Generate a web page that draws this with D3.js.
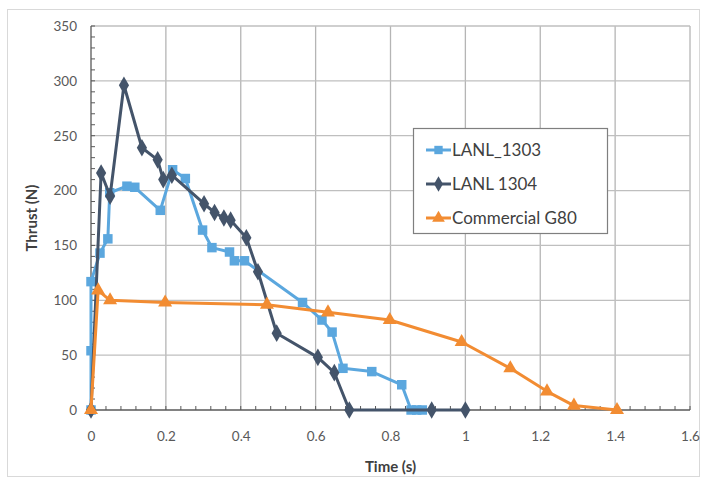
<!DOCTYPE html>
<html><head><meta charset="utf-8">
<script src="https://cdn.jsdelivr.net/npm/d3@7"></script>
<style>
body{margin:0;background:#fff;}
text{font-family:Lato,"Open Sans",sans-serif;}
</style></head>
<body><svg id="c" width="707" height="485"></svg>
<script>
// ---- data ----
const xTicks = [0,0.2,0.4,0.6,0.8,1,1.2,1.4,1.6];
const yTicks = [0,50,100,150,200,250,300,350];
const seriesNames = ["LANL_1303","LANL 1304","Commercial G80"];
const lanl1303 = [[0,0],[0,54],[0,117],[0.024,143],[0.045,156],[0.05,198],[0.096,204],[0.117,203],[0.185,182],[0.218,219],[0.252,211],[0.298,164],[0.323,148],[0.37,144],[0.383,136],[0.41,136],[0.565,98],[0.617,82],[0.644,71],[0.673,38],[0.75,35],[0.83,23],[0.855,0],[0.87,0],[0.885,0]];
const lanl1304 = [[0,0],[0.027,216],[0.051,195],[0.088,296],[0.136,239],[0.178,228],[0.193,210],[0.216,214],[0.302,188],[0.33,180],[0.355,175],[0.373,173],[0.415,157],[0.446,126],[0.496,70],[0.606,48],[0.65,34],[0.69,0],[0.91,0],[1.0,0]];
const g80 = [[0,0],[0.019,109],[0.051,100],[0.198,98],[0.47,96],[0.633,89],[0.798,82],[0.99,62],[1.12,38],[1.218,17],[1.29,4],[1.405,0]];

const svg = d3.select("#c");
const M = {l:91, r:690, t:26, b:410};
const x = d3.scaleLinear().domain([0,1.6]).range([M.l,M.r]);
const y = d3.scaleLinear().domain([0,350]).range([M.b,M.t]);

// outer frame
svg.append("rect").attr("x",7.5).attr("y",9.5).attr("width",692).attr("height",467)
  .attr("fill","#fff").attr("stroke","#d9d9d9");

// gridlines
const grid = svg.append("g");
grid.selectAll(".gx").data(xTicks.slice(1)).enter().append("line")
  .attr("x1",d=>x(d)).attr("x2",d=>x(d)).attr("y1",M.t).attr("y2",M.b)
  .attr("stroke","#b5b5b5").attr("stroke-width",1.3);
grid.selectAll(".gy").data(yTicks.slice(1)).enter().append("line")
  .attr("y1",d=>y(d)).attr("y2",d=>y(d)).attr("x1",M.l).attr("x2",M.r)
  .attr("stroke","#bfbfbf").attr("stroke-width",1.3);

// axes
const xAxis = svg.append("g").attr("transform",`translate(0,${M.b})`)
  .call(d3.axisBottom(x).tickValues(xTicks).tickSize(0).tickPadding(21).tickFormat(d3.format("~g")));
xAxis.select(".domain").remove();
const yAxis = svg.append("g").attr("transform",`translate(${M.l},0)`)
  .call(d3.axisLeft(y).tickValues(yTicks).tickSize(0).tickPadding(14));
yAxis.select(".domain").remove();
svg.selectAll(".tick text").attr("font-size",13.5).attr("fill","#595959");

// minor ticks
const xMinor = d3.range(0,1.6001,0.04);
svg.append("g").selectAll("line").data(xMinor).enter().append("line")
  .attr("x1",d=>x(d)).attr("x2",d=>x(d)).attr("y1",M.b-4).attr("y2",M.b)
  .attr("stroke","#595959");
const yMinor = d3.range(0,350.1,10);
svg.append("g").selectAll("line").data(yMinor).enter().append("line")
  .attr("y1",d=>y(d)).attr("y2",d=>y(d)).attr("x1",M.l).attr("x2",M.l+4)
  .attr("stroke","#595959");
svg.append("line").attr("x1",M.l).attr("x2",M.r).attr("y1",M.b).attr("y2",M.b).attr("stroke","#595959").attr("stroke-width",1.3);
svg.append("line").attr("x1",M.l).attr("x2",M.l).attr("y1",M.t).attr("y2",M.b).attr("stroke","#595959").attr("stroke-width",1.3);

// axis titles
svg.append("text").attr("x",(M.l+M.r)/2).attr("y",472).attr("text-anchor","middle")
  .attr("font-size",15).attr("font-weight","bold").attr("fill","#404040").text("Time (s)");
svg.append("text").attr("transform",`translate(37,${(M.t+M.b)/2}) rotate(-90)`).attr("text-anchor","middle")
  .attr("font-size",15).attr("font-weight","bold").attr("fill","#404040").text("Thrust (N)");

// series
const colors = ["#5ba7de","#44546a","#f28c32"];
const line = d3.line().x(d=>x(d[0])).y(d=>y(d[1]));
const sym = [d3.symbolSquare,d3.symbolDiamond,d3.symbolTriangle];
const symSize = [90,90,85];
const data = [lanl1303,lanl1304,g80];
data.forEach((s,i)=>{
  const g = svg.append("g");
  g.append("path").attr("d",line(s)).attr("fill","none").attr("stroke",colors[i]).attr("stroke-width",3).attr("stroke-linejoin","round");
  g.selectAll("path.m").data(s).enter().append("path").attr("class","m")
    .attr("d",d3.symbol().type(sym[i]).size(symSize[i]))
    .attr("transform",d=>`translate(${x(d[0])},${y(d[1])})`).attr("fill",colors[i]);
});

// legend
const lg = svg.append("g");
lg.append("rect").attr("x",413.5).attr("y",128.5).attr("width",194).attr("height",105)
  .attr("fill","#fff").attr("stroke","#7f7f7f").attr("stroke-width",1.2);
seriesNames.forEach((n,i)=>{
  const cy = 150 + i*34;
  lg.append("line").attr("x1",426).attr("x2",451).attr("y1",cy).attr("y2",cy).attr("stroke",colors[i]).attr("stroke-width",3);
  lg.append("path").attr("d",d3.symbol().type(sym[i]).size(70)).attr("transform",`translate(438.5,${cy})`).attr("fill",colors[i]);
  lg.append("text").attr("x",452).attr("y",cy+6).attr("font-size",17).attr("fill","#404040").text(n);
});
</script></body></html>
